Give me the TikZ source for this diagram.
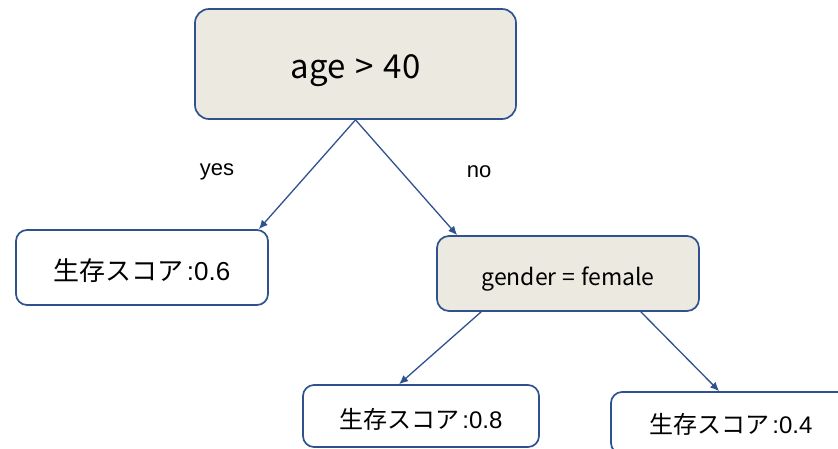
\documentclass[tikz,border=0pt]{standalone}
\usepackage{fontspec}
\setmainfont{Liberation Sans}
\newfontfamily\jp{Noto Sans CJK JP}
\usetikzlibrary{arrows.meta,calc}
\definecolor{edgeblue}{HTML}{2F528F}
\definecolor{boxfill}{HTML}{ECEAE0}
\begin{document}
\begin{tikzpicture}[x=1pt,y=-1pt,
  decbox/.style={draw=edgeblue,line width=1.7pt,fill=boxfill,rounded corners=14pt,inner sep=0pt,text depth=0pt},
  leafbox/.style={draw=edgeblue,line width=1.7pt,fill=white,rounded corners=11pt,inner sep=0pt,text depth=0pt},
  conn/.style={draw=edgeblue,line width=1.3pt,-{Latex[length=9pt,width=8pt]}},
  lbl/.style={font=\fontsize{22}{26}\selectfont,inner sep=0pt}]
\useasboundingbox (0,0) rectangle (838,448);
\node[decbox,text height=28pt,minimum width=321pt,minimum height=110pt,font=\jp\fontsize{33}{38}\selectfont] (top) at (355.5,64) {age\hspace{0.3em}>\hspace{0.3em}40};
\node[leafbox,text height=25pt,minimum width=252pt,minimum height=75pt,font=\fontsize{26}{30}\selectfont] (l06) at (142,267.5) {{\jp 生存スコア}\hspace{0.12em}:0.6};
\node[decbox,text height=23pt,rounded corners=12pt,minimum width=262pt,minimum height=75pt,font=\jp\fontsize{23}{27}\selectfont] (gen) at (568,273.5) {gender\hspace{0.25em}=\hspace{0.25em}female};
\node[leafbox,text height=24pt,minimum width=236pt,minimum height=62pt,font=\fontsize{24}{28}\selectfont] (l08) at (421,416) {{\jp 生存スコア}\hspace{0.12em}:0.8};
\node[leafbox,text height=20pt,minimum width=240pt,minimum height=62pt,font=\fontsize{24}{28}\selectfont] (l04) at (731,423) {{\jp 生存スコア}\hspace{0.12em}:0.4};
\draw[conn] (top.south) -- ($(l06.north east)+(-10,0)$);
\draw[conn] (top.south) -- ($(gen.north west)+(21,0)$);
\draw[conn] ($(gen.south west)+(45,0)$) -- ($(l08.north west)+(97,0)$);
\draw[conn] ($(gen.south east)+(-59,0)$) -- ($(l04.north west)+(109,0)$);
\node[lbl] (yes) at (217,172) {yes};
\node[lbl] (no) at (479,172) {no};
\end{tikzpicture}
\end{document}
